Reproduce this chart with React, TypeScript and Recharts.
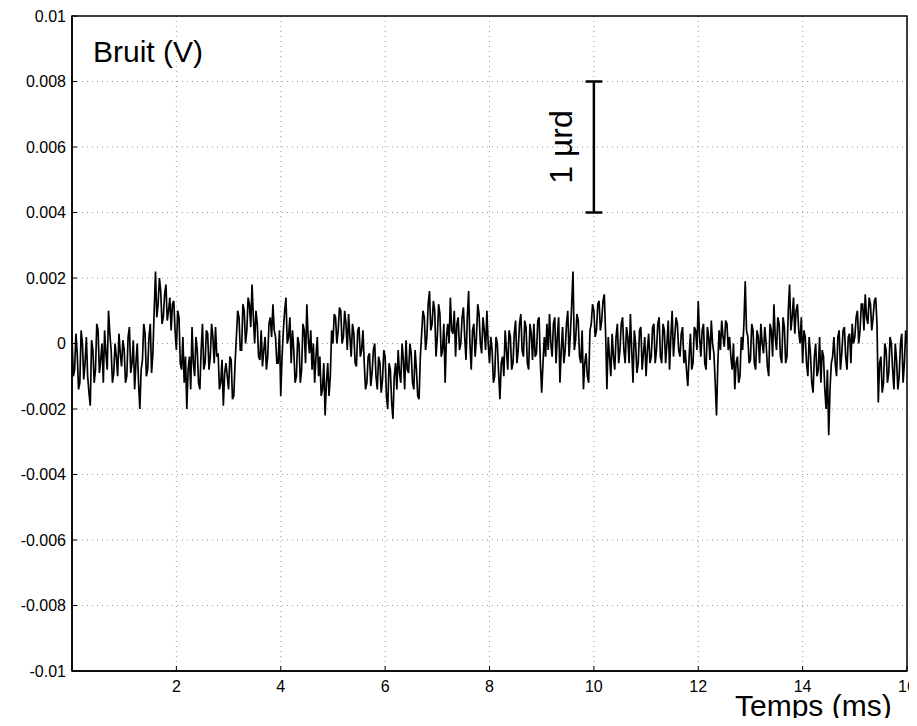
import React, { useLayoutEffect } from 'react';
import {
  LineChart,
  Line,
  XAxis,
  YAxis,
  CartesianGrid,
  ReferenceLine,
  ReferenceArea,
} from 'recharts';

// Sampling: each millisecond holds 20 samples on the 0.05 ms grid plus 20 samples
// half a step later (0.025 ms offset). Values are in units of 0.1 mV.
const DT_MS = 0.05;
const HALF_DT_MS = 0.025;
const NOISE_UNIT_V = 1e-4;

// Samples on the 0.05 ms grid
const noiseMs00 = [2, -8, -3, -12, 0, -6, -10, -19, -2, -8, 4, -5, -12, -3, 10, -2, -9, -4, 3, -7];
const noiseMs01 = [-2, -10, 5, -6, -14, 0, -20, -5, 3, -8, 6, -3, 22, 12, 16, 8, 18, 10, 4, 13];
const noiseMs02 = [-2, 8, -8, -12, -20, -4, 5, -10, -2, -14, 6, -6, 3, -4, 2, 5, -3, -12, -19, -6];
const noiseMs03 = [-14, -5, -16, 2, 8, -2, 10, 4, 12, 18, 0, 6, -5, -7, 2, -4, 8, 12, 2, -6];
const noiseMs04 = [-16, 4, 14, 2, -6, -2, -10, 0, -8, 4, 12, -3, -8, -12, 2, -4, -14, -22, -6, -10];
const noiseMs05 = [0, 8, 4, 10, 2, 6, 9, -4, 3, -7, 5, -2, -6, -12, -3, -9, 0, -14, -6, -11];
const noiseMs06 = [-4, -20, -8, -23, -6, -2, -12, -5, 1, -9, -3, -14, -8, -17, 3, 8, 2, 16, 6, 10];
const noiseMs07 = [2, 9, -2, -12, 6, 14, 3, -4, 8, 0, 11, -5, 16, -8, 6, 2, 9, -3, 4, 10];
const noiseMs08 = [-6, -2, -10, 0, -17, -4, 4, -8, 2, -6, 7, -2, 9, -4, 5, -8, 3, 6, -3, 8];
const noiseMs09 = [-15, 2, 6, 9, -4, 8, 2, -12, 5, -2, 10, 3, 22, 1, 7, -6, -14, -3, -12, 6];
const noiseMs10 = [10, 4, 13, 7, 15, -14, -4, 3, -8, 6, -2, 8, -6, 2, 9, -12, 0, -6, 5, -3];
const noiseMs11 = [-10, 3, -4, 6, -2, 8, -6, 4, 0, -8, 10, 2, 6, -4, 5, -2, -13, 3, -6, 4];
const noiseMs12 = [13, -4, 6, -8, 2, 7, -3, -22, 4, 7, -1, 6, 2, -8, -14, -4, -10, -2, 19, 2];
const noiseMs13 = [-5, 4, -8, 2, 6, -3, 0, -10, 4, 12, -2, 6, -6, 5, -4, 18, 8, 3, 12, 0];
const noiseMs14 = [-6, 2, -10, -3, -15, 0, -8, -12, -4, -20, -28, -6, 2, -10, 4, -3, 5, -8, 3, 6];
const noiseMs15 = [2, 10, 4, 12, 15, 6, 12, 8, 14, -18, -4, -12, -2, -9, 0, -14, -5, -10, 3, -6];

// Samples half a step later
const noiseMidMs00 = [-10, 3, -14, 4, -11, 2, -15, 1, -12, 6, -9, 0, 4, -8, 3, -12, 0, -10, -3, 1];
const noiseMidMs01 = [-12, 2, -9, 1, -6, -12, -8, 6, -10, 2, -9, 10, 8, 20, 6, 15, 7, 14, 12, 4];
const noiseMidMs02 = [10, -6, 2, -4, -8, -14, -6, 2, -12, -2, -8, 4, -8, 6, -6, -4, -14, -5, -9, -10];
const noiseMidMs03 = [-4, -17, -6, 10, -2, 12, 0, 14, 5, 8, 10, -4, 4, -2, -8, 6, 2, 4, -6, 4];
const noiseMidMs04 = [-4, 10, 0, 8, 4, -12, 2, -12, 6, -6, 2, 4, 0, -4, -10, -16, -6, -12, -16, 4];
const noiseMidMs05 = [9, 0, 11, 0, 10, -2, 2, 6, -6, 4, -4, 4, -14, -4, -13, -2, -10, -4, -15, -2];
const noiseMidMs06 = [-16, -6, -18, -10, -14, -9, 0, -14, -8, 0, -12, -2, -16, -4, 10, -2, 12, 4, 13, -4];
const noiseMidMs07 = [12, -4, 6, 2, 0, 4, 10, 6, -2, 8, 2, 8, 0, 4, -4, 12, 0, 8, -2, 0];
const noiseMidMs08 = [2, -12, 2, -9, -6, -10, -2, 4, -8, 3, -6, 6, -2, 7, -6, 6, -5, -4, 7, -6];
const noiseMidMs09 = [-6, -4, -2, 0, 6, -6, 8, -2, -6, 6, -4, 12, -2, 9, -4, 4, -6, -10, 4, 12];
const noiseMidMs10 = [2, 12, 4, 13, 3, 2, -10, -4, 2, -6, 6, -2, 5, -6, -2, 4, -9, 4, -8, 2];
const noiseMidMs11 = [-2, -6, 5, -6, 6, -4, 6, -6, 7, 2, -4, 8, -2, 3, -6, -8, -4, -8, 5, -2];
const noiseMidMs12 = [2, 4, -6, 5, -5, 0, -12, -6, -2, 2, 7, -2, -4, 0, -6, -12, 2, 6, 4, -6];
const noiseMidMs13 = [6, -6, 4, -6, 0, 5, -7, 6, -4, 2, 8, -4, 8, -6, 10, 4, 14, 10, 4, 8];
const noiseMidMs14 = [4, -6, 2, -12, -4, -10, 2, -2, -14, -8, -14, -4, -6, 2, -8, 4, -4, 2, -6, 0];
const noiseMidMs15 = [8, 0, 12, 4, 8, 14, 4, 13, 6, -6, -15, 0, -12, 2, -8, 0, -14, 0, -12, 4];

const noiseEnd = 0; // sample at t = 16 ms

const noiseGrid = [
  noiseMs00, noiseMs01, noiseMs02, noiseMs03, noiseMs04, noiseMs05, noiseMs06, noiseMs07,
  noiseMs08, noiseMs09, noiseMs10, noiseMs11, noiseMs12, noiseMs13, noiseMs14, noiseMs15,
];
const noiseMid = [
  noiseMidMs00, noiseMidMs01, noiseMidMs02, noiseMidMs03, noiseMidMs04, noiseMidMs05, noiseMidMs06, noiseMidMs07,
  noiseMidMs08, noiseMidMs09, noiseMidMs10, noiseMidMs11, noiseMidMs12, noiseMidMs13, noiseMidMs14, noiseMidMs15,
];

// Axes
const xDomain = [0, 16];
const xTicks = [0, 2, 4, 6, 8, 10, 12, 14, 16];
const xTickLabels = ['', '2', '4', '6', '8', '10', '12', '14', '16'];
const yDomain = [-0.01, 0.01];
const yTicks = [-0.01, -0.008, -0.006, -0.004, -0.002, 0, 0.002, 0.004, 0.006, 0.008, 0.01];
const yTickLabels = ['-0.01', '-0.008', '-0.006', '-0.004', '-0.002', '0', '0.002', '0.004', '0.006', '0.008', '0.01'];

// Scale bar (1 µrd)
const scaleBarX = 10;
const scaleBarY = [0.004, 0.008];
const scaleBarCapHalf = 0.16;

const data: { t: number; v: number }[] = [];
noiseGrid.forEach((seg, ms) => {
  seg.forEach((val, j) => {
    const t = ms + j * DT_MS;
    data.push({ t: Math.round(t * 1000) / 1000, v: val * NOISE_UNIT_V });
    data.push({ t: Math.round((t + HALF_DT_MS) * 1000) / 1000, v: noiseMid[ms][j] * NOISE_UNIT_V });
  });
});
data.push({ t: 16, v: noiseEnd * NOISE_UNIT_V });

const FONT = '"Liberation Sans", Arial, Helvetica, sans-serif';
const W = 917;
const H = 726;

const EmptyTick = () => <g />;

export default function App() {
  useLayoutEffect(() => {
    document.documentElement.style.overflow = 'hidden';
    document.body.style.overflow = 'hidden';
  }, []);
  const tickStyle = { fill: '#000', fontSize: 16, fontFamily: FONT };
  return (
    <div
      style={{
        position: 'relative',
        width: W,
        height: H,
        margin: -8,
        overflow: 'hidden',
        background: '#fff',
        fontFamily: FONT,
      }}
    >
      <LineChart
        width={W}
        height={H}
        data={data}
        margin={{ top: 16, right: 10, left: 12, bottom: 25 }}
        style={{ fontFamily: FONT }}
      >
        <CartesianGrid stroke="#999" strokeDasharray="1 4" strokeWidth={1} />
        <XAxis
          dataKey="t"
          type="number"
          domain={xDomain}
          ticks={xTicks}
          tickFormatter={(v) => xTickLabels[xTicks.indexOf(v)] ?? ''}
          allowDataOverflow
          height={30}
          tickSize={-5}
          tickMargin={15}
          fontSize={16}
          tick={tickStyle}
          stroke="#000"
          axisLine={{ stroke: '#000', strokeWidth: 1.5 }}
          tickLine={{ stroke: '#000' }}
        />
        <XAxis
          xAxisId="top"
          orientation="top"
          type="number"
          domain={xDomain}
          ticks={xTicks}
          allowDataOverflow
          height={0}
          tickSize={-5}
          tick={EmptyTick}
          axisLine={false}
          tickLine={{ stroke: '#000' }}
        />
        <YAxis
          type="number"
          domain={yDomain}
          ticks={yTicks}
          tickFormatter={(v) => yTickLabels[yTicks.indexOf(v)] ?? String(v)}
          allowDataOverflow
          width={60}
          tickSize={-5}
          tickMargin={11}
          fontSize={16}
          tick={tickStyle}
          stroke="#000"
          axisLine={{ stroke: '#000', strokeWidth: 1.5 }}
          tickLine={{ stroke: '#000' }}
        />
        <YAxis
          yAxisId="right"
          orientation="right"
          type="number"
          domain={yDomain}
          ticks={yTicks}
          allowDataOverflow
          width={0}
          tickSize={-5}
          tick={EmptyTick}
          axisLine={false}
          tickLine={{ stroke: '#000' }}
        />
        <ReferenceArea
          x1={xDomain[0]}
          x2={xDomain[1]}
          y1={yDomain[0]}
          y2={yDomain[1]}
          fill="none"
          fillOpacity={0}
          stroke="#000"
          strokeWidth={1.5}
        />
        <Line
          type="linear"
          dataKey="v"
          stroke="#000"
          strokeWidth={1.7}
          strokeLinejoin="miter"
          dot={false}
          activeDot={false}
          isAnimationActive={false}
        />
        <ReferenceLine
          segment={[{ x: scaleBarX, y: scaleBarY[0] }, { x: scaleBarX, y: scaleBarY[1] }]}
          stroke="#000"
          strokeWidth={2.5}
        />
        <ReferenceLine
          segment={[{ x: scaleBarX - scaleBarCapHalf, y: scaleBarY[0] }, { x: scaleBarX + scaleBarCapHalf, y: scaleBarY[0] }]}
          stroke="#000"
          strokeWidth={2.5}
        />
        <ReferenceLine
          segment={[{ x: scaleBarX - scaleBarCapHalf, y: scaleBarY[1] }, { x: scaleBarX + scaleBarCapHalf, y: scaleBarY[1] }]}
          stroke="#000"
          strokeWidth={2.5}
        />
      </LineChart>
      <div style={{ position: 'absolute', left: 93, top: 37, fontSize: 30, lineHeight: 1, whiteSpace: 'nowrap', color: '#000' }}>
        Bruit (V)
      </div>
      <div
        style={{
          position: 'absolute',
          left: 561,
          top: 147,
          fontSize: 32,
          lineHeight: 1,
          whiteSpace: 'nowrap',
          color: '#000',
          transform: 'translate(-50%, -50%) rotate(-90deg)',
        }}
      >
        1 µrd
      </div>
      <div style={{ position: 'absolute', left: 735, top: 698, fontSize: 30, lineHeight: '16px', whiteSpace: 'nowrap', color: '#000' }}>
        Temps (ms)
      </div>
    </div>
  );
}
